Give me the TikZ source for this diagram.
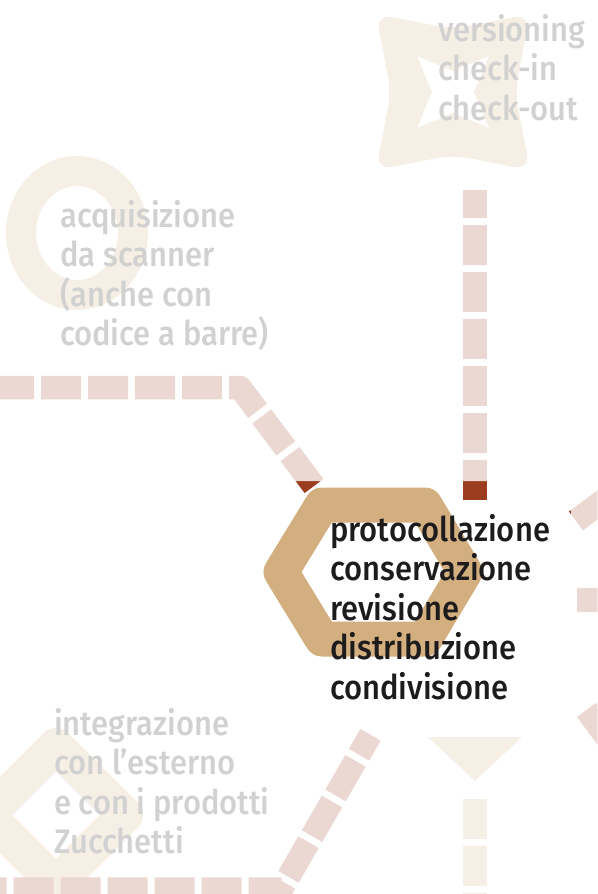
\documentclass[tikz,border=0pt]{standalone}
\usepackage{fontspec}
\setmainfont{Fira Sans}[UprightFont={* Medium}, FakeStretch=0.91]
\definecolor{sand}{RGB}{211,175,127}
\definecolor{rust}{RGB}{155,61,30}
\definecolor{ink}{RGB}{30,27,28}
\tikzstyle{conn} = [line width=23.5, draw=rust, line join=round, dash pattern=on 40pt off 7pt]
\tikzstyle{sandconn} = [conn, draw=sand]
\tikzstyle{outline} = [draw=sand, line join=round]
\tikzstyle{lbl} = [anchor=base west, align=left, inner sep=0, text=ink, font=\fontsize{34}{39.5}\selectfont]
\def\fade{0.8}

\begin{document}
\begin{tikzpicture}[x=1pt, y=-1pt]
\useasboundingbox (0,0) rectangle (597,894);
\clip (0,0) rectangle (597,894);

% shapes round the core
\draw [outline, line width=30] (77,233) ellipse [x radius=56, y radius=62];
\fill [sand, even odd rule, shift={(453,92)}] [rounded corners=16] (-77,-78) -- (0,-63) -- (77,-78) -- (62,0) -- (77,78) -- (0,63) -- (-77,78) -- (-62,0) -- cycle
  [sharp corners] (-36,-36) -- (0,-21) -- (36,-36) -- (21,0) -- (36,36) -- (0,21) -- (-36,36) -- (-21,0) -- cycle;
\draw [outline, line width=36] (56,746) -- (125,815) -- (56,884) -- (-13,815) -- cycle;
\fill [sand] (428,737) -- (522,737) -- (475,781) -- cycle;

% connector ends
\coordinate (hexW) at (314,486);
\coordinate (bendW) at (240,387.5);
\coordinate (farW) at (-20,387.5);
\coordinate (hexN) at (475,500);
\coordinate (topN) at (475,190);
\coordinate (hexNE) at (576,521);
\coordinate (farNE) at (640,473);
\coordinate (hexE) at (577,600);
\coordinate (farE) at (640,600);
\coordinate (hexSE) at (586.4,710);
\coordinate (farSE) at (634,774);
\coordinate (hexSW) at (370.5,734.8);
\coordinate (bendSW) at (281.5,889);
\coordinate (farSW) at (-20,889);
\coordinate (hexS) at (475,799);
\coordinate (farS) at (475,920);

\draw [conn] (hexW) -- (bendW) -- (farW);
\draw [conn] (hexN) -- (topN);
\draw [conn] (hexNE) -- (farNE);
\draw [conn] (hexE) -- (farE);
\draw [conn] (hexSE) -- (farSE);
\draw [conn, dash phase=17pt] (hexSW) -- (bendSW) -- (farSW);
\draw [sandconn] (hexS) -- (farS);

% hexagon
\draw [outline, line width=35] (281,572) -- (322,505) -- (425,505) -- (465,572) -- (425,639) -- (322,639) -- cycle;

% base anchor sits on the last line
\node (version) [lbl] at (438,120) {versioning\\check-in\\check-out};
\node (scan) [lbl] at (60,345.5) {acquisizione\\da scanner\\(anche con\\codice a barre)};
\node (extern) [lbl] at (54,853.5) {integrazione\\con l’esterno\\e con i prodotti\\Zucchetti};

% everything but the core is faded
\fill [white, opacity=\fade, even odd rule] (0,0) rectangle (597,894) (255,481) rectangle (571,718);

\node (core) [lbl] at (330,699) {protocollazione\\conservazione\\revisione\\distribuzione\\condivisione};
\end{tikzpicture}
\end{document}
